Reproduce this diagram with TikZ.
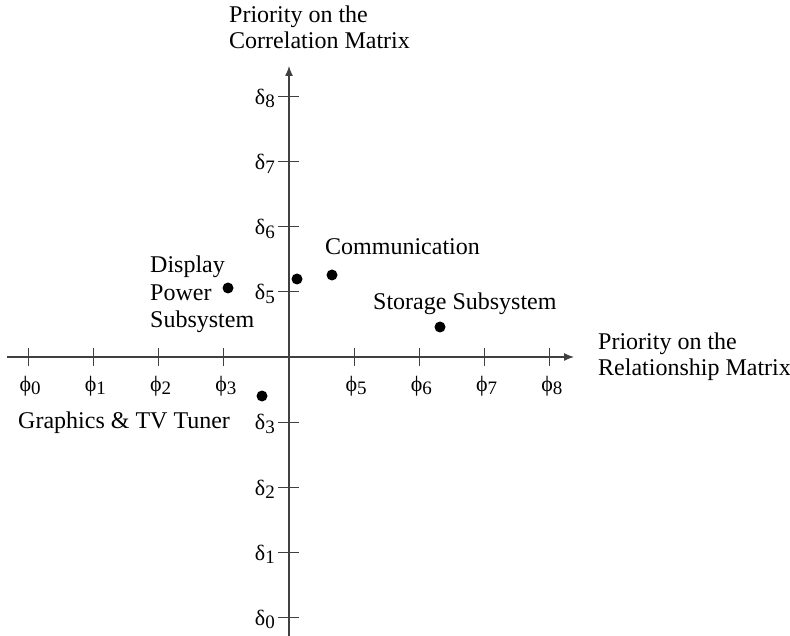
\documentclass[tikz,border=0pt]{standalone}
\usepackage{fontspec}
\setmainfont{Liberation Serif}
\usetikzlibrary{arrows.meta}
\newcommand{\lbl}[2]{#1\raisebox{-0.35ex}{\fontsize{19}{19}\selectfont #2}}
\tikzset{
  axis/.style={line width=1.3pt, draw=black!75},
  tick/.style={line width=1.2pt, draw=black!75},
  txt/.style={font=\fontsize{24}{26}\selectfont, inner sep=0pt, align=left},
  ticklbl/.style={font=\fontsize{22}{24}\selectfont, inner sep=0pt},
  pt/.style={circle, fill=black, inner sep=0pt, minimum size=11pt}
}
\begin{document}
\begin{tikzpicture}[x=1pt, y=-1pt]
\useasboundingbox (0,0) rectangle (790,636);
% axes
\coordinate (xs) at (7,357);
\coordinate (xe) at (574,357);
\coordinate (ys) at (289,636);
\coordinate (ye) at (289,66);
\draw[axis, -{Latex[length=10pt,width=8pt]}] (xs) -- (xe);
\draw[axis, -{Latex[length=10pt,width=8pt]}] (ys) -- (ye);
% x ticks
\foreach \i in {0,1,2,3,5,6,7,8} {
  \coordinate (xt\i) at ({289+(\i-4)*65.2},357);
  \draw[tick] ([yshift=-9pt]xt\i) -- ([yshift=9pt]xt\i);
  \node[ticklbl] (xl\i) at ({289+(\i-4)*65.2+2},386) {\lbl{ϕ}{\i}};
}
% y ticks
\foreach \i in {0,1,2,3,5,6,7,8} {
  \coordinate (yt\i) at (289,{357-(\i-4)*65.1});
  \draw[tick] ([xshift=-11pt]yt\i) -- ([xshift=10pt]yt\i);
  \node[ticklbl, anchor=east] (yl\i) at (275,{357-(\i-4)*65.1+2}) {\lbl{δ}{\i}};
}
% axis titles
\node[txt, anchor=base west] (ytitle) at (229,49) {Priority on the\\Correlation Matrix};
\node[txt, anchor=base west] (xtitle) at (598,375) {Priority on the\\Relationship Matrix};
% points
\node[pt] (pdisp) at (228,288) {};
\node[pt] (pcen) at (297,279) {};
\node[pt] (pcomm) at (332,275) {};
\node[pt] (pstor) at (440,327) {};
\node[pt] (pgfx) at (262,396) {};
% labels
\node[txt, anchor=base west] (tcomm) at (325,255) {Communication};
\node[txt, anchor=base west] (tstor) at (373,310) {Storage Subsystem};
\node[txt, anchor=base west, font=\fontsize{24}{27.5}\selectfont] (tdisp) at (150,328) {Display\\Power\\Subsystem};
\node[txt, anchor=base west] (tgfx) at (18,428) {Graphics \& TV Tuner};
\end{tikzpicture}
\end{document}
